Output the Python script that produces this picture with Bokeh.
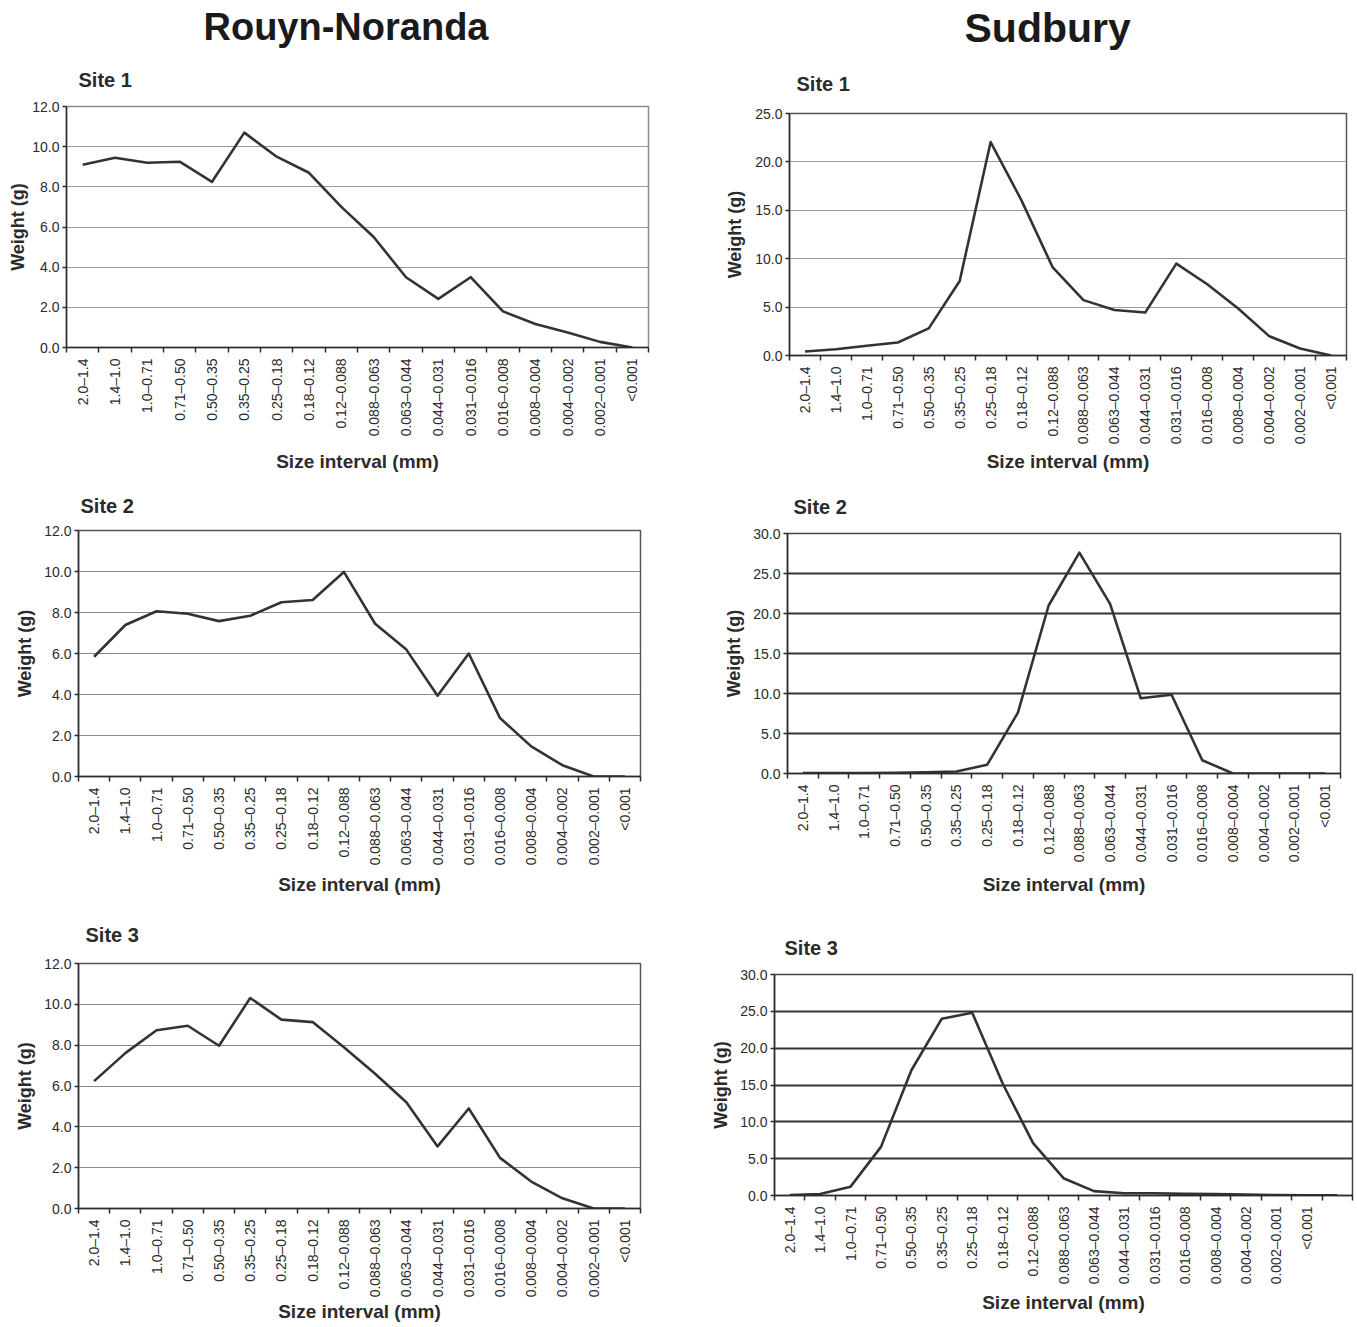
import math
from bokeh.plotting import figure
from bokeh.models import Range1d, FixedTicker, NumeralTickFormatter, Title, ColumnDataSource
from bokeh.layouts import row, column
from bokeh.embed import file_html
from bokeh.resources import INLINE

# ---------------- data ----------------
size_intervals = ["2.0–1.4", "1.4–1.0", "1.0–0.71", "0.71–0.50", "0.50–0.35",
                  "0.35–0.25", "0.25–0.18", "0.18–0.12", "0.12–0.088",
                  "0.088–0.063", "0.063–0.044", "0.044–0.031", "0.031–0.016",
                  "0.016–0.008", "0.008–0.004", "0.004–0.002", "0.002–0.001",
                  "<0.001"]
sudbury_site3_intervals = size_intervals + [""]

rouyn_site1 = [9.1, 9.45, 9.2, 9.25, 8.25, 10.7, 9.5, 8.7, 7.0, 5.5, 3.5,
               2.42, 3.5, 1.8, 1.17, 0.75, 0.28, 0.0]
rouyn_site2 = [5.84, 7.39, 8.06, 7.94, 7.58, 7.84, 8.5, 8.61, 9.98, 7.45, 6.19,
               3.94, 6.0, 2.85, 1.47, 0.55, 0.0, 0.0]
rouyn_site3 = [6.24, 7.61, 8.73, 8.95, 7.97, 10.31, 9.25, 9.13, 7.9, 6.6, 5.2,
               3.04, 4.9, 2.48, 1.32, 0.5, 0.0, 0.0]

sudbury_site1 = [0.41, 0.65, 1.0, 1.34, 2.8, 7.7, 22.05, 16.0, 9.14, 5.72, 4.7,
                 4.45, 9.49, 7.36, 4.85, 2.0, 0.72, 0.0]
sudbury_site2 = [0.05, 0.05, 0.05, 0.1, 0.15, 0.25, 1.1, 7.6, 21.0, 27.6, 21.2,
                 9.4, 9.85, 1.66, 0.0, 0.0, 0.0, 0.0]
sudbury_site3 = [0.05, 0.2, 1.2, 6.6, 17.0, 24.0, 24.8, 15.2, 7.1, 2.35, 0.6,
                 0.3, 0.3, 0.22, 0.18, 0.13, 0.05, 0.03, 0.03]

column_titles = ["Rouyn-Noranda", "Sudbury"]
site_titles = ["Site 1", "Site 2", "Site 3"]
x_title = "Size interval (mm)"
y_title = "Weight (g)"

FONT = "Liberation Sans"
INK = "#2b2b2b"


def make_panel(labels, values, ymax, ystep, width, height, borders, title,
               title_offset, title_standoff, ylab_standoff, xlab_standoff,
               grid_color, grid_width, outline_color, header=None,
               header_offset=0, header_size="38px", header_standoff=0):
    n = len(labels)
    left, right, top, bottom = borders
    p = figure(width=width, height=height, title=None,
               x_range=Range1d(0, n), y_range=Range1d(0, ymax),
               output_backend="svg", toolbar_location=None,
               min_border_left=left, min_border_right=right,
               min_border_top=top, min_border_bottom=bottom)
    p.background_fill_color = "white"
    p.border_fill_color = "white"
    p.outline_line_color = outline_color
    p.outline_line_width = 1.5

    # titles (first added is nearest the frame)
    p.add_layout(Title(text=title, align="left", offset=title_offset,
                       standoff=title_standoff, text_font=FONT,
                       text_font_size="20px", text_font_style="bold",
                       text_color=INK), "above")
    if header is not None:
        p.add_layout(Title(text=header, align="left", offset=header_offset,
                           standoff=header_standoff, vertical_align="top",
                           text_font=FONT, text_font_size=header_size,
                           text_font_style="bold", text_color="#1a1a1a"),
                     "above")

    centers = [i + 0.5 for i in range(n)]
    bounds = list(range(n + 1))
    src = ColumnDataSource(data=dict(x=[i + 0.5 for i in range(len(values))],
                                     y=values))
    p.line("x", "y", source=src, line_color="#333333", line_width=2.6,
           line_join="round")

    # x axis: category labels at centres, ticks at category boundaries
    xa = p.xaxis[0]
    xa.ticker = FixedTicker(ticks=centers, minor_ticks=bounds)
    xa.major_label_overrides = {c: lab for c, lab in zip(centers, labels)}
    xa.major_label_orientation = math.pi / 2
    xa.major_tick_line_color = None
    xa.minor_tick_line_color = INK
    xa.minor_tick_line_width = 1.5
    xa.minor_tick_out = 5
    xa.minor_tick_in = 0
    xa.major_label_standoff = 5
    xa.major_label_text_font = FONT
    xa.major_label_text_font_size = "14px"
    xa.major_label_text_color = INK
    xa.axis_line_color = INK
    xa.axis_line_width = 1.5
    xa.axis_label = x_title
    xa.axis_label_text_font = FONT
    xa.axis_label_text_font_size = "19px"
    xa.axis_label_text_font_style = "bold"
    xa.axis_label_text_color = INK
    xa.axis_label_standoff = xlab_standoff

    # y axis
    ya = p.yaxis[0]
    yticks = [k * ystep for k in range(int(round(ymax / ystep)) + 1)]
    ya.ticker = FixedTicker(ticks=yticks)
    ya.formatter = NumeralTickFormatter(format="0.0")
    ya.major_tick_out = 4
    ya.major_tick_in = 0
    ya.major_tick_line_color = INK
    ya.major_tick_line_width = 1.5
    ya.minor_tick_line_color = None
    ya.major_label_standoff = 3
    ya.major_label_text_font = FONT
    ya.major_label_text_font_size = "14px"
    ya.major_label_text_color = INK
    ya.axis_line_color = INK
    ya.axis_line_width = 1.5
    ya.axis_label = y_title
    ya.axis_label_text_font = FONT
    ya.axis_label_text_font_size = "18px"
    ya.axis_label_text_font_style = "bold"
    ya.axis_label_text_color = INK
    ya.axis_label_standoff = ylab_standoff

    p.xgrid.visible = False
    p.ygrid.ticker = FixedTicker(ticks=yticks)
    p.ygrid.grid_line_color = grid_color
    p.ygrid.grid_line_width = grid_width
    return p


W1, W2 = 682, 673
H1, H2, H3 = 476, 424, 425

r1 = make_panel(size_intervals, rouyn_site1, 12, 2, W1, H1, (66, 34, 106, 129),
                site_titles[0], 12, 31, 1, 12, "#9a9a9a", 1.2, "#8a8a8a",
                header=column_titles[0], header_offset=137, header_size="38px",
                header_standoff=4)
s1 = make_panel(size_intervals, sudbury_site1, 25, 5, W2, H1, (107, 9, 113, 121),
                site_titles[0], 7, 37, 7, 4, "#9a9a9a", 1.2, "#555555",
                header=column_titles[1], header_offset=175, header_size="41px",
                header_standoff=0)
r2 = make_panel(size_intervals, rouyn_site2, 12, 2, W1, H2, (78, 42, 54, 124),
                site_titles[1], 2, 28, 6, 6, "#8a8a8a", 1.2, "#555555")
s2 = make_panel(size_intervals, sudbury_site2, 30, 5, W2, H2, (105, 15, 57, 127),
                site_titles[1], 6, 31, 6, 9, "#333333", 1.8, "#444444")
r3 = make_panel(size_intervals, rouyn_site3, 12, 2, W1, H3, (78, 42, 63, 117),
                site_titles[2], 7, 35, 6, 1, "#8a8a8a", 1.2, "#555555")
s3 = make_panel(sudbury_site3_intervals, sudbury_site3, 30, 5, W2, H3,
                (92, 3, 74, 130), site_titles[2], 10, 31, 6, 5, "#333333", 1.8,
                "#444444")

layout = column(row(column(r1), column(s1)),
                row(column(r2), column(s2)),
                row(column(r3), column(s3)))

with open("out.html", "w") as f:
    f.write(file_html(layout, INLINE, "Size distribution"))
